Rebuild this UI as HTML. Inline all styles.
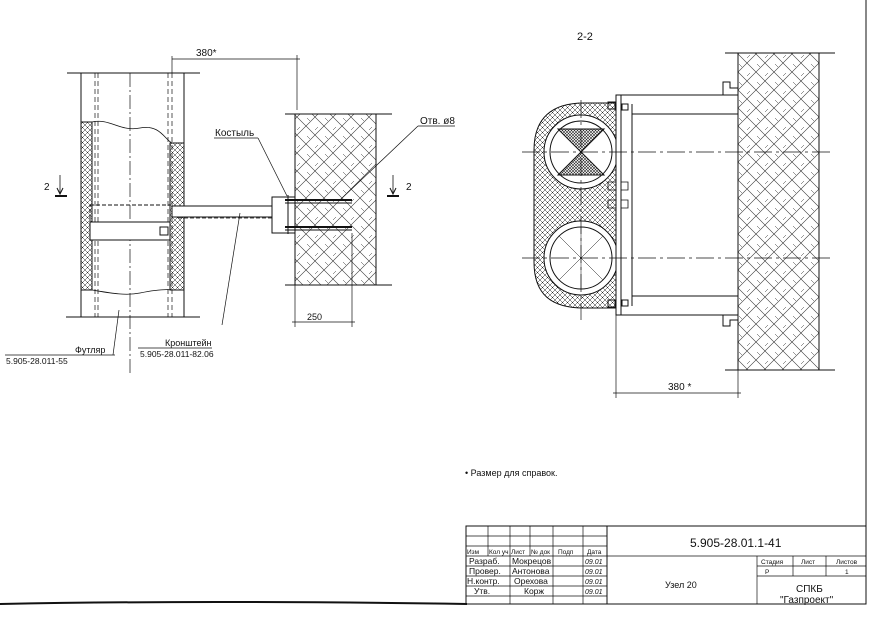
<!DOCTYPE html>
<html><head><meta charset="utf-8"><style>
html,body{margin:0;padding:0;background:#fff;}
svg{display:block;font-family:"Liberation Sans","DejaVu Sans",sans-serif;}
text{fill:#111;}
</style></head><body>
<svg width="871" height="617" viewBox="0 0 871 617" xmlns="http://www.w3.org/2000/svg">
<defs>
<pattern id="ins" width="5" height="5" patternUnits="userSpaceOnUse">
<path d="M0 0L5 5M5 0L0 5" stroke="#222" stroke-width="0.5"/>
</pattern>
<pattern id="wall" width="18" height="18" patternUnits="userSpaceOnUse">
<path d="M0 0L18 18M18 0L0 18" stroke="#333" stroke-width="0.6"/>
<path d="M9 4l3 -3M4 13l-3 -3" stroke="#333" stroke-width="0.5"/>
</pattern>
<pattern id="fine" width="3" height="3" patternUnits="userSpaceOnUse">
<path d="M0 0L3 3M3 0L0 3" stroke="#222" stroke-width="0.6"/>
</pattern>
</defs>
<g stroke="#111" fill="none" stroke-width="1">
<!-- LEFT VIEW -->
<line x1="67" y1="73" x2="200" y2="73"/>
<line x1="66" y1="317" x2="200" y2="317"/>
<line x1="81" y1="73" x2="81" y2="317"/>
<line x1="184" y1="73" x2="184" y2="317"/>
<g stroke-dasharray="5,3" stroke-width="0.7">
<line x1="95" y1="73" x2="95" y2="317"/><line x1="98" y1="73" x2="98" y2="317"/>
<line x1="168" y1="73" x2="168" y2="317"/><line x1="172" y1="73" x2="172" y2="317"/>
</g>
<line x1="130" y1="73" x2="130" y2="375" stroke-dasharray="14,3,2,3" stroke-width="0.7"/>
<rect x="81" y="122" width="11" height="168" fill="url(#ins)"/>
<rect x="170" y="143" width="14" height="147" fill="url(#ins)"/>
<path d="M92 122 C110 118,120 132,140 128 S165 140,172 143" stroke-width="0.8"/>
<path d="M92 290 C110 293,125 296,140 293 S165 289,172 290" stroke-width="0.8"/>
<rect x="90" y="205" width="80" height="17" stroke-dasharray="4,2"/>
<rect x="90" y="222" width="80" height="18" fill="#fff"/>
<rect x="160" y="227" width="8" height="8"/>
<rect x="172" y="206" width="100" height="11" fill="#fff"/>
<line x1="178" y1="218" x2="272" y2="218" stroke-dasharray="4,2" stroke-width="0.7"/>
<rect x="272" y="197" width="23" height="36" fill="#fff"/>
<line x1="285" y1="114" x2="392" y2="114"/>
<line x1="285" y1="285" x2="392" y2="285"/>
<rect x="295" y="114" width="81" height="171" fill="url(#wall)"/>
<line x1="285" y1="200" x2="352" y2="200" stroke-width="2"/>
<line x1="285" y1="203" x2="352" y2="203"/>
<line x1="285" y1="227" x2="352" y2="227" stroke-width="2"/>
<line x1="285" y1="230" x2="352" y2="230"/>
<line x1="288" y1="195" x2="288" y2="234"/>
<line x1="172" y1="59" x2="300" y2="59" stroke-width="0.7"/>
<line x1="297" y1="55" x2="297" y2="110" stroke-width="0.7"/>
<line x1="172" y1="56" x2="172" y2="73" stroke-width="0.7"/>
<line x1="292" y1="322" x2="355" y2="322" stroke-width="0.7"/>
<line x1="295" y1="285" x2="295" y2="327" stroke-width="0.7"/>
<line x1="352" y1="233" x2="352" y2="327" stroke-width="0.7"/>
<line x1="214" y1="138" x2="258" y2="138" stroke-width="0.7"/>
<line x1="258" y1="138" x2="287" y2="196" stroke-width="0.7"/>
<line x1="418" y1="126" x2="455" y2="126" stroke-width="0.7"/>
<line x1="418" y1="126" x2="340" y2="200" stroke-width="0.7"/>
<line x1="5" y1="355" x2="115" y2="355" stroke-width="0.7"/>
<line x1="113" y1="355" x2="119" y2="310" stroke-width="0.7"/>
<line x1="138" y1="348" x2="212" y2="348" stroke-width="0.7"/>
<line x1="222" y1="325" x2="240" y2="213" stroke-width="0.7"/>
<line x1="60" y1="175" x2="60" y2="193" stroke-width="0.8"/><path d="M57 188L60 194L63 188"/>
<line x1="55" y1="196" x2="67" y2="196" stroke-width="2"/>
<line x1="393" y1="175" x2="393" y2="193" stroke-width="0.8"/><path d="M390 188L393 194L396 188"/>
<line x1="387" y1="196" x2="399" y2="196" stroke-width="2"/>

<!-- RIGHT VIEW -->
<line x1="725" y1="53" x2="835" y2="53"/>
<line x1="725" y1="370" x2="835" y2="370"/>
<rect x="738" y="53" width="81" height="317" fill="url(#wall)"/>
<path d="M738 88 H730 V82 H723 V95"/>
<path d="M738 320 H730 V326 H723 V315"/>
<path d="M584 103 C552 103,534 118,534 150 L534 262 C534 295,552 308,584 308 L616 308 L616 103 Z" fill="url(#ins)"/>
<circle cx="581" cy="152" r="37" fill="#fff"/>
<circle cx="581" cy="152" r="31" fill="#fff"/>
<circle cx="581" cy="258" r="37" fill="#fff"/>
<circle cx="581" cy="258" r="31" fill="#fff"/>
<path d="M581 152L558 129H604Z" fill="url(#fine)"/>
<path d="M581 152L558 175H604Z" fill="url(#fine)"/>
<g stroke-width="0.5"><line x1="559" y1="236" x2="603" y2="280"/><line x1="603" y1="236" x2="559" y2="280"/><line x1="581" y1="227" x2="581" y2="289"/></g>
<rect x="616" y="95" width="122" height="220" fill="#fff"/>
<line x1="632" y1="114" x2="738" y2="114"/><line x1="632" y1="296" x2="738" y2="296"/>
<line x1="621" y1="95" x2="621" y2="315"/>
<line x1="632" y1="104" x2="632" y2="306"/>
<path d="M616 182 H608 V190 H616 M616 200 H608 V208 H616 M621 182 h7 v8 h-7 M621 200 h7 v8 h-7" stroke-width="0.8"/>
<rect x="608" y="102" width="7" height="7"/><rect x="608" y="300" width="7" height="7"/>
<rect x="622" y="104" width="6" height="6"/><rect x="622" y="300" width="6" height="6"/>
<g stroke-dasharray="18,4,3,4" stroke-width="0.7">
<line x1="522" y1="152" x2="830" y2="152"/><line x1="522" y1="258" x2="830" y2="258"/>
<line x1="581" y1="100" x2="581" y2="320"/>
</g>
<line x1="616" y1="315" x2="616" y2="398" stroke-width="0.7"/>
<line x1="738" y1="370" x2="738" y2="398" stroke-width="0.7"/>
<line x1="613" y1="393" x2="741" y2="393" stroke-width="0.7"/>

<line x1="866" y1="0" x2="866" y2="604"/>
<path d="M0 604 Q200 600 467 604" stroke-width="2"/>
<rect x="466" y="526" width="400" height="78"/>
<line x1="607" y1="526" x2="607" y2="604"/>
<g stroke-width="0.7">
<line x1="466" y1="536" x2="607" y2="536"/><line x1="466" y1="546" x2="607" y2="546"/>
<line x1="466" y1="556" x2="866" y2="556"/><line x1="466" y1="566" x2="607" y2="566"/>
<line x1="466" y1="576" x2="607" y2="576"/><line x1="466" y1="586" x2="607" y2="586"/>
<line x1="466" y1="596" x2="607" y2="596"/>
<line x1="488" y1="526" x2="488" y2="556"/><line x1="510" y1="526" x2="510" y2="604"/>
<line x1="530" y1="526" x2="530" y2="556"/><line x1="553" y1="526" x2="553" y2="604"/>
<line x1="583" y1="526" x2="583" y2="604"/>
<line x1="757" y1="556" x2="757" y2="604"/>
<line x1="757" y1="566" x2="866" y2="566"/><line x1="757" y1="576" x2="866" y2="576"/>
<line x1="793" y1="556" x2="793" y2="576"/><line x1="826" y1="556" x2="826" y2="576"/>
</g>
</g>
<g font-size="9">
<text x="196" y="56" font-size="10">380*</text>
<text x="307" y="320">250</text>
<text x="215" y="136" font-size="10">Костыль</text>
<text x="420" y="124" font-size="10">Отв. ø8</text>
<text x="44" y="190" font-size="10">2</text>
<text x="406" y="190" font-size="10">2</text>
<text x="75" y="353">Футляр</text>
<text x="6" y="364" font-size="8.5">5.905-28.011-55</text>
<text x="165" y="346">Кронштейн</text>
<text x="140" y="357" font-size="8.5" fill="#555">5.905-28.011-82.06</text>
<text x="577" y="40" font-size="11">2-2</text>
<text x="668" y="390" font-size="10">380 *</text>
<text x="465" y="476" font-size="9">• Размер для справок.</text>
<g font-size="6.5">
<text x="467" y="554">Изм</text><text x="489" y="554">Кол уч</text><text x="511" y="554">Лист</text><text x="531" y="554">№ док</text><text x="558" y="554">Подп</text><text x="587" y="554">Дата</text>
</g>
<g font-size="8.5">
<text x="469" y="564">Разраб.</text><text x="512" y="564">Мокрецов</text>
<text x="469" y="574">Провер.</text><text x="512" y="574">Антонова</text>
<text x="467" y="584">Н.контр.</text><text x="514" y="584">Орехова</text>
<text x="474" y="594">Утв.</text><text x="524" y="594">Корж</text>
</g>
<g font-size="7" font-style="italic"><text x="585" y="564">09.01</text><text x="585" y="574">09.01</text><text x="585" y="584">09.01</text><text x="585" y="594">09.01</text></g>
<text x="690" y="547" font-size="12">5.905-28.01.1-41</text>
<text x="665" y="588" font-size="9">Узел 20</text>
<g font-size="6.5"><text x="761" y="564">Стадия</text><text x="801" y="564">Лист</text><text x="836" y="564">Листов</text><text x="765" y="574">Р</text><text x="845" y="574">1</text></g>
<text x="796" y="592" font-size="10">СПКБ</text>
<text x="780" y="603" font-size="10">"Газпроект"</text>
</g>
</svg>
</body></html>
